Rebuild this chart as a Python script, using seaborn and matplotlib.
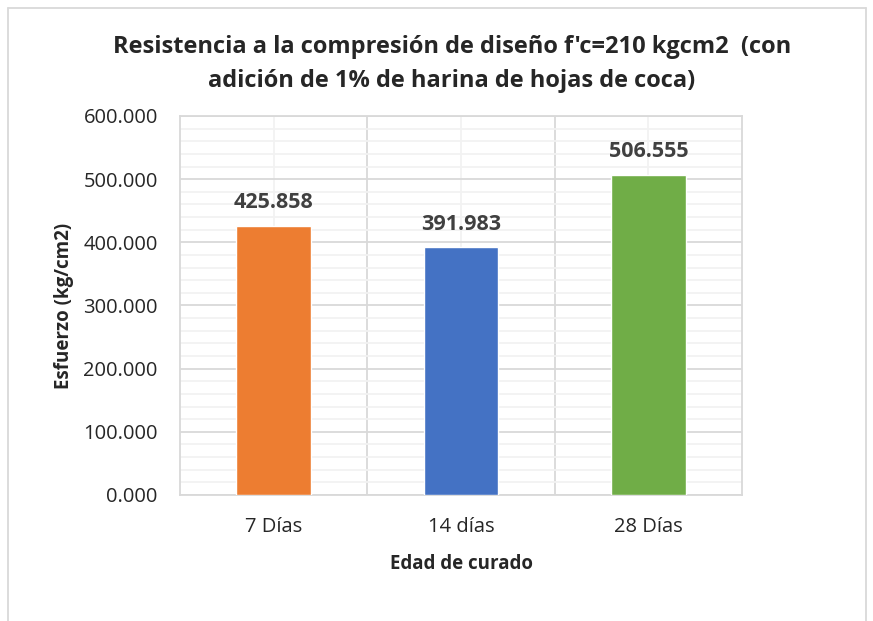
import matplotlib
matplotlib.use("Agg")
import matplotlib.pyplot as plt
import seaborn as sns
import pandas as pd
from matplotlib.ticker import MultipleLocator, FormatStrFormatter, FixedLocator
from matplotlib.lines import Line2D

# data
categories = ["7 Días", "14 días", "28 Días"]
values = [425.858, 391.983, 506.555]
colors = ["#ED7D31", "#4472C4", "#70AD47"]

df = pd.DataFrame({"edad": categories, "esfuerzo": values})

sns.set_theme(style="white")
plt.rcParams['font.family'] = ['Open Sans', 'DejaVu Sans']

fig = plt.figure(figsize=(8.73, 6.21), dpi=100)
ax = fig.add_axes([180 / 873, 1 - 495 / 621, 562 / 873, 379 / 621])

sns.barplot(data=df, x="edad", y="esfuerzo", hue="edad", palette=colors,
            width=0.4, legend=False, ax=ax, zorder=3, saturation=1)

ax.set_ylim(0, 600)
ax.set_xlim(-0.5, len(categories) - 0.5)
ax.yaxis.set_major_locator(MultipleLocator(100))
ax.yaxis.set_minor_locator(MultipleLocator(20))
ax.yaxis.set_major_formatter(FormatStrFormatter("%.3f"))
ax.xaxis.set_minor_locator(FixedLocator([i + 0.5 for i in range(len(categories) - 1)]))

ax.grid(which="major", axis="y", color="#D9D9D9", linewidth=1.3, zorder=1)
ax.grid(which="minor", axis="y", color="#F2F2F2", linewidth=1.3, zorder=0)
ax.grid(which="minor", axis="x", color="#D9D9D9", linewidth=1.3, zorder=1)
ax.grid(which="major", axis="x", color="#F2F2F2", linewidth=1.3, zorder=0)
ax.set_axisbelow(True)

for s in ax.spines.values():
    s.set_color("#D9D9D9")
    s.set_linewidth(1.3)

ax.tick_params(axis="both", which="both", length=0, labelsize=14.5, colors="#262626")
ax.tick_params(axis="x", pad=16)
ax.tick_params(axis="y", pad=16)

for i, v in enumerate(values):
    ax.text(i, v + 20, f"{v:.3f}", ha="center", va="bottom", fontsize=15.5,
            fontweight="bold", color="#404040")

ax.set_xlabel("Edad de curado", fontsize=13.5, fontweight="bold", color="#262626", labelpad=12)
ax.set_ylabel("Esfuerzo (kg/cm2)", fontsize=13.5, fontweight="bold", color="#262626", labelpad=7)

fig.text(452 / 873, 1 - 47 / 621, "Resistencia a la compresión de diseño f'c=210 kgcm2  (con",
         ha="center", va="center", fontsize=17, fontweight="bold", color="#262626")
fig.text(452 / 873, 1 - 81 / 621, "adición de 1% de harina de hojas de coca)",
         ha="center", va="center", fontsize=17, fontweight="bold", color="#262626")

# outer chart border
border = "#D9D9D9"
fig.add_artist(Line2D([8 / 873, 8 / 873], [0, 1 - 8 / 621], color=border, lw=1.3, transform=fig.transFigure))
fig.add_artist(Line2D([8 / 873, 866 / 873], [1 - 8 / 621, 1 - 8 / 621], color=border, lw=1.3, transform=fig.transFigure))
fig.add_artist(Line2D([866 / 873, 866 / 873], [0, 1 - 8 / 621], color=border, lw=1.3, transform=fig.transFigure))

fig.savefig("out.png", dpi=100, facecolor="white")
